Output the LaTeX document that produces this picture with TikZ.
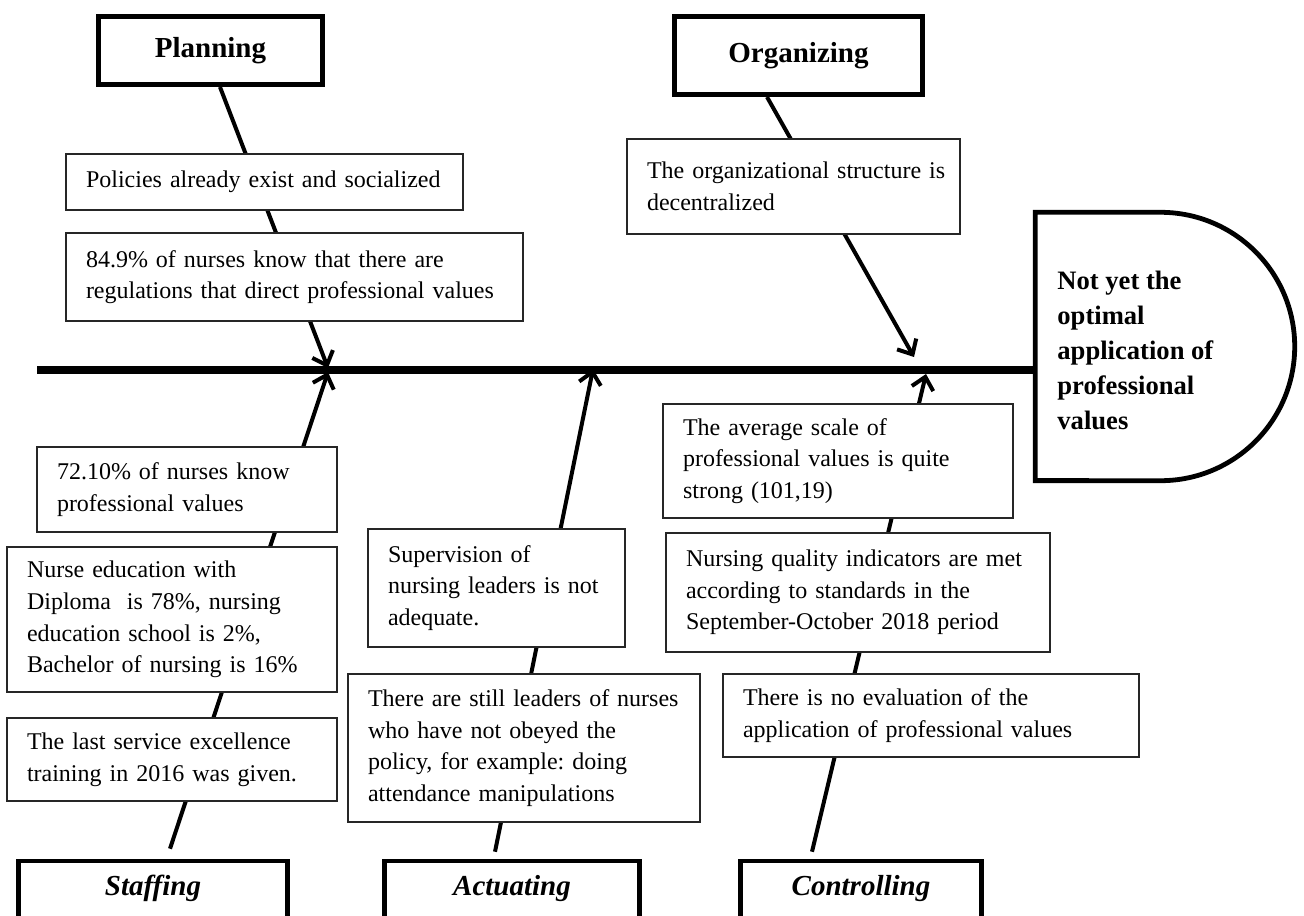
\documentclass[tikz,border=0pt]{standalone}
\usepackage{fontspec}
\setmainfont{Liberation Serif}
\usetikzlibrary{arrows.meta,backgrounds}

\begin{document}
\begin{tikzpicture}[
    x=0.5pt, y=-0.5pt,
    cause/.style={rectangle, draw=black!85, line width=0.6pt, fill=white, align=left, inner xsep=10pt, inner ysep=0pt, font=\fontsize{12}{15.8}\selectfont\frenchspacing},
    category/.style={rectangle, draw, line width=2.3pt, fill=white, font=\fontsize{14.5}{17}\selectfont\bfseries},
    lowcat/.style={category, inner ysep=0pt, text height=17pt, text depth=15pt, font=\fontsize{14.5}{17}\selectfont\bfseries\itshape},
    effect/.style={align=left, anchor=west, inner sep=0pt, font=\fontsize{13.3}{17.5}\selectfont\bfseries},
    headline/.style={draw, line width=2.4pt},
    spine/.style={draw, line width=4pt},
    bone/.style={draw, line width=2pt, -{Straight Barb[length=6pt,width=11pt]}}
]

\useasboundingbox (0,0) rectangle (1304,915);
\clip (0,0) rectangle (1304,915);

\node [category, minimum width=112.2pt, minimum height=34.2pt] (planning) at (210.5,50.5) {Planning};
\node [category, minimum width=124.2pt, minimum height=39.2pt] (organizing) at (798.5,55.5) {Organizing};
\node [lowcat, minimum width=134.7pt] (staffing) at (153,893) {Staffing};
\node [lowcat, minimum width=127.7pt] (actuating) at (512,893) {Actuating};
\node [lowcat, minimum width=120.7pt] (controlling) at (861,893) {Controlling};

\node [cause, text width=178.5pt, minimum height=28pt] (policy) at (264.5,182) {Policies already exist and socialized};
\node [cause, text width=208.5pt, minimum height=44pt] (regulation) at (294.5,277) {84.9\% of nurses know that there are\\regulations that direct professional values};
\node [cause, text width=146.5pt, minimum height=47.5pt] (structure) at (793.5,186.5) {\mbox{The organizational structure is}\\decentralized};

\node [cause, text width=130pt, minimum height=42.5pt] (knowledge) at (187,489.5) {72.10\% of nurses know\\professional values};
\node [cause, text width=145pt, minimum height=72.5pt] (education) at (172,619.5) {Nurse education with\\Diploma\ \ is 78\%, nursing\\education school is 2\%,\\Bachelor of nursing is 16\%};
\node [cause, text width=145pt, minimum height=41.5pt] (training) at (172,759.5) {The last service excellence\\training in 2016 was given.};

\node [cause, text width=108.5pt, minimum height=59pt] (supervision) at (496.5,588) {Supervision of\\nursing leaders is not\\adequate.};
\node [cause, text width=156pt, minimum height=74pt] (obedience) at (524,748) {There are still leaders of nurses\\who have not obeyed the\\policy, for example: doing\\attendance manipulations};

\node [cause, text width=155pt, minimum height=57pt] (scale) at (838,461) {The average scale of\\professional values is quite\\strong (101,19)};
\node [cause, text width=172pt, minimum height=59.5pt] (quality) at (858,592.5) {Nursing quality indicators are met\\according to standards in the\\September-October 2018 period};
\node [cause, text width=188pt, minimum height=41.5pt] (evaluation) at (931,715.5) {There is no evaluation of the\\application of professional values};

\node [effect] (effect) at (1057,350) {Not yet the\\optimal\\application of\\professional\\values};
\draw [headline] (1035.3,212.3) -- (1160.5,212.3) arc[start angle=90, end angle=-90, radius=67.1pt] -- (1035.3,480.6) -- cycle;

\coordinate (tail) at (37,370);
\coordinate (headjoin) at (1035,370);
\coordinate (planjoin) at (328,368);
\coordinate (orgjoin) at (914,357);
\coordinate (staffjoin) at (328,372);
\coordinate (actjoin) at (593,369);
\coordinate (ctrljoin) at (926,374);

\draw [spine] (tail) -- (headjoin);

\begin{scope}[on background layer]
\draw [bone] ([xshift=4.75pt]planning.south) -- (planjoin);
\draw [bone] ([xshift=-15.75pt]organizing.south) -- (orgjoin);
\draw [bone] ([xshift=8.5pt,yshift=5pt]staffing.north) -- (staffjoin);
\draw [bone] ([xshift=-8.5pt,yshift=3.5pt]actuating.north) -- (actjoin);
\draw [bone] ([xshift=-24.5pt,yshift=3.5pt]controlling.north) -- (ctrljoin);
\end{scope}

\end{tikzpicture}
\end{document}
